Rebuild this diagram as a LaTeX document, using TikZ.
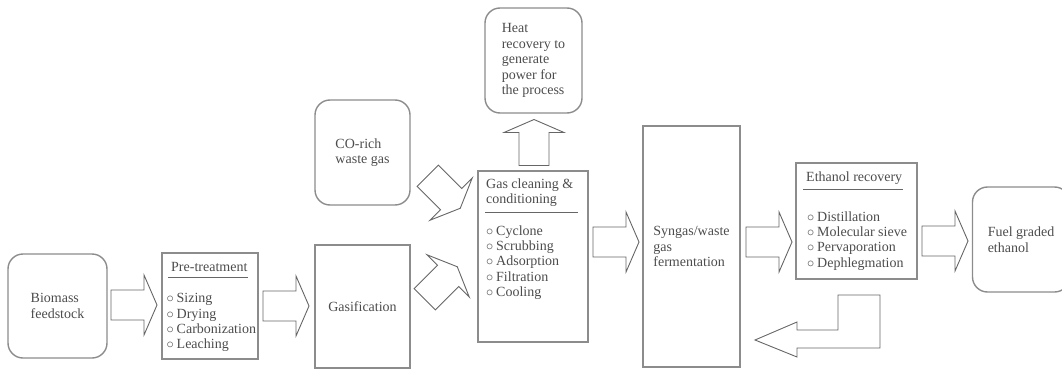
\documentclass[tikz,border=0pt]{standalone}
\usepackage{fontspec}
\setmainfont{Liberation Serif}
\usepackage{tikz}
\usetikzlibrary{positioning}
\newcommand{\itm}{\makebox[10pt][l]{$\circ$}}

\tikzset{
	box/.style={draw=black!45, line width=1.4pt, text=black!70, align=left, inner sep=0pt, font={\fontsize{14}{15.5}\selectfont}},
	rbox/.style={box, rounded corners=15pt},
	txt/.style={text=black!70, align=left, inner sep=0pt, font={\fontsize{14}{15.2}\selectfont}},
	rulel/.style={draw=black!60, line width=0.9pt},
	fat/.style={draw=black!60, line width=0.9pt, fill=white},
	fatarrow/.pic={\draw[fat] (-23,-15) -- (10,-15) -- (10,-30) -- (23,0) -- (10,30) -- (10,15) -- (-23,15) -- cycle;}
}

\begin{document}
\begin{tikzpicture}[x=1pt, y=-1pt]
	\useasboundingbox (0,0) rectangle (1062,369);
	\node[rbox, minimum width=99pt, minimum height=104pt] (biomass) at (57.5,306) {Biomass\\feedstock};
	\node[box, minimum width=96pt, minimum height=106pt] (pretreat) at (210,306) {};
	\node[box, minimum width=95pt, minimum height=123pt] (gasif) at (362.5,306.5) {Gasification};
	\node[rbox, minimum width=95pt, minimum height=105pt] (corich) at (362.5,152.5) {CO-rich\\waste gas};
	\node[box, minimum width=110pt, minimum height=171pt] (gasclean) at (533,256.5) {};
	\node[rbox, minimum width=97pt, minimum height=105pt] (heat) at (533.5,60.5) {Heat\\recovery to\\generate\\power for\\the process};
	\node[box, minimum width=97pt, minimum height=241pt] (syngas) at (691.5,246.5) {Syngas/waste\\gas\\fermentation};
	\node[box, minimum width=121pt, minimum height=116pt] (ethanol) at (856.5,221) {};
	\node[rbox, minimum width=97pt, minimum height=105pt] (fuel) at (1021,239.5) {Fuel graded\\ethanol};
	%
	\node[txt, anchor=north west] (pretreathead) at (171,262.5) {Pre-treatment};
	\draw[rulel] (168,277) -- (248,277);
	\node[txt, anchor=north west] (pretreatlist) at (166.5,293.5) {\itm Sizing\\\itm Drying\\\itm Carbonization\\\itm Leaching};
	\node[txt, anchor=north west] (gascleanhead) at (486,178.5) {Gas cleaning \&\\conditioning};
	\draw[rulel] (485,212) -- (578,212);
	\node[txt, anchor=north west] (gascleanlist) at (486,225.5) {\itm Cyclone\\\itm Scrubbing\\\itm Adsorption\\\itm Filtration\\\itm Cooling};
	\node[txt, anchor=north west] (ethanolhead) at (806,171.5) {Ethanol recovery};
	\draw[rulel] (803,189) -- (903,189);
	\node[txt, anchor=north west] (ethanollist) at (807,211.5) {\itm Distillation\\\itm Molecular sieve\\\itm Pervaporation\\\itm Dephlegmation};
	%
	\pic at (134,305) {fatarrow};
	\pic at (286,306) {fatarrow};
	\pic[rotate=-45] at (444,192) {fatarrow};
	\pic[rotate=45] at (441,283) {fatarrow};
	\pic[rotate=90] at (534,142.5) {fatarrow};
	\pic at (616,242) {fatarrow};
	\pic at (769,242) {fatarrow};
	\pic at (945,241) {fatarrow};
	\draw[fat] (880,295) -- (838,295) -- (838,330) -- (797,330) -- (797,322) -- (755,340) -- (797,357) -- (797,348) -- (880,348) -- cycle;
\end{tikzpicture}
\end{document}
